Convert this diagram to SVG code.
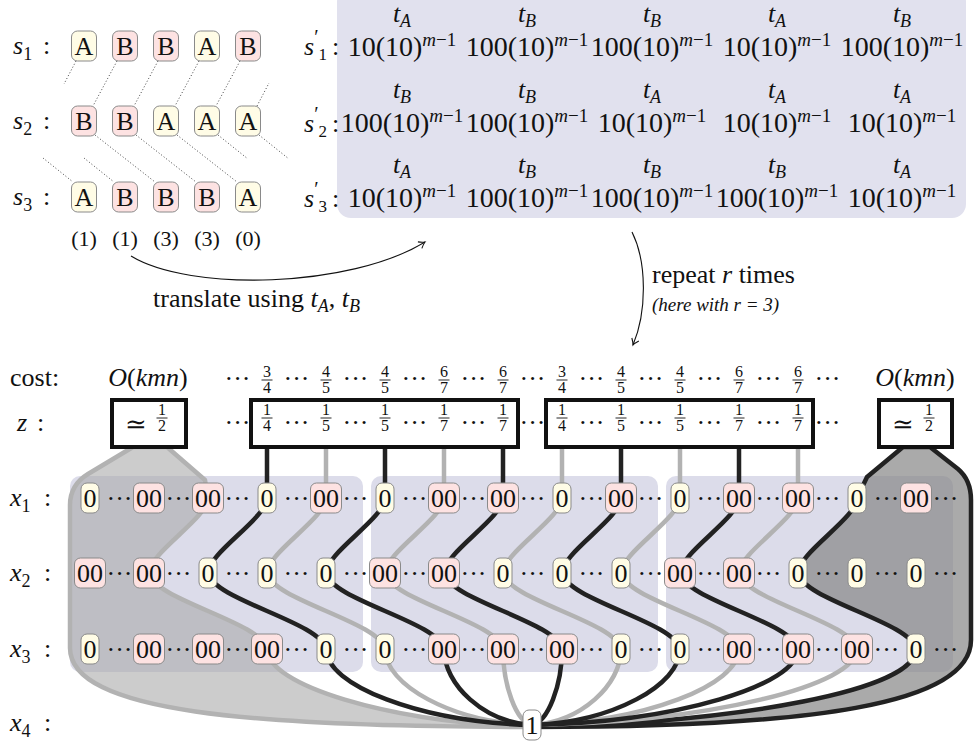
<svg xmlns="http://www.w3.org/2000/svg" width="974" height="744" viewBox="0 0 974 744" font-family="Liberation Serif, DejaVu Serif, serif">
<style>
text{font-family:Liberation Serif,DejaVu Serif,serif;fill:#111}
.i{font-style:italic}
.m{text-anchor:middle}
.L{font-size:26px}
.a{fill:#fffce6;stroke:#8a8a8a;stroke-width:1}
.b{fill:#fde2e2;stroke:#8a8a8a;stroke-width:1}
.w{fill:#fff;stroke:#8a8a8a;stroke-width:1}
.blk{fill:#dcdcea}
.k{fill:none;stroke:#222;stroke-width:4.5;stroke-linejoin:round}
.g{fill:none;stroke:#b2b2b2;stroke-width:4.5;stroke-linejoin:round}
.zb{fill:#fff;stroke:#111;stroke-width:4}
.dl{stroke:#444;stroke-width:1;stroke-dasharray:1 2.2;fill:none}
.nd text{font-size:26px;text-anchor:middle}
.d{font-size:26px;text-anchor:middle}
.f{font-size:16px;text-anchor:middle}
.fb{stroke:#111;stroke-width:0.9}
.v{font-size:28px;text-anchor:middle}
.sup{font-size:19px}
.arr{fill:none;stroke:#111;stroke-width:1.1}
</style>
<defs>
<marker id="ah" viewBox="-7 -5 9 10" markerWidth="9" markerHeight="10" refX="0" refY="0" orient="auto" markerUnits="userSpaceOnUse">
<path d="M-6,-3.8 Q-2.5,-0.9 0,0 Q-2.5,0.9 -6,3.8" fill="none" stroke="#111" stroke-width="1.1"/>
</marker>
</defs>

<g id="labels-s">
<text class="L" x="13" y="54"><tspan class="i">s</tspan><tspan font-size="18" dy="6">1</tspan><tspan x="43" dy="-6">:</tspan></text>
<text class="L" x="13" y="129"><tspan class="i">s</tspan><tspan font-size="18" dy="6">2</tspan><tspan x="43" dy="-6">:</tspan></text>
<text class="L" x="13" y="205"><tspan class="i">s</tspan><tspan font-size="18" dy="6">3</tspan><tspan x="43" dy="-6">:</tspan></text>
</g>

<g id="seq-links">
<line class="dl" x1="76" y1="61" x2="64" y2="84"/>
<line class="dl" x1="117" y1="61" x2="93" y2="106"/>
<line class="dl" x1="158" y1="61" x2="134" y2="106"/>
<line class="dl" x1="199" y1="61" x2="175" y2="106"/>
<line class="dl" x1="240" y1="61" x2="216" y2="106"/>
<line class="dl" x1="257" y1="106" x2="269" y2="83"/>
<line class="dl" x1="43" y1="158" x2="73" y2="182"/>
<line class="dl" x1="84" y1="158" x2="114" y2="182"/>
<line class="dl" x1="95" y1="135" x2="155" y2="182"/>
<line class="dl" x1="136" y1="135" x2="196" y2="182"/>
<line class="dl" x1="177" y1="135" x2="237" y2="182"/>
<line class="dl" x1="218" y1="135" x2="248" y2="159"/>
<line class="dl" x1="259" y1="135" x2="289" y2="159"/>
</g>

<g class="nd">
<g id="s1-0" transform="translate(84,46)"><rect class="a" x="-12.5" y="-15" width="25" height="30" rx="6"/><text y="9">A</text></g>
<g id="s1-1" transform="translate(125,46)"><rect class="b" x="-12.5" y="-15" width="25" height="30" rx="6"/><text y="9">B</text></g>
<g id="s1-2" transform="translate(166,46)"><rect class="b" x="-12.5" y="-15" width="25" height="30" rx="6"/><text y="9">B</text></g>
<g id="s1-3" transform="translate(207,46)"><rect class="a" x="-12.5" y="-15" width="25" height="30" rx="6"/><text y="9">A</text></g>
<g id="s1-4" transform="translate(248,46)"><rect class="b" x="-12.5" y="-15" width="25" height="30" rx="6"/><text y="9">B</text></g>
<g id="s2-0" transform="translate(84,121)"><rect class="b" x="-12.5" y="-15" width="25" height="30" rx="6"/><text y="9">B</text></g>
<g id="s2-1" transform="translate(125,121)"><rect class="b" x="-12.5" y="-15" width="25" height="30" rx="6"/><text y="9">B</text></g>
<g id="s2-2" transform="translate(166,121)"><rect class="a" x="-12.5" y="-15" width="25" height="30" rx="6"/><text y="9">A</text></g>
<g id="s2-3" transform="translate(207,121)"><rect class="a" x="-12.5" y="-15" width="25" height="30" rx="6"/><text y="9">A</text></g>
<g id="s2-4" transform="translate(248,121)"><rect class="a" x="-12.5" y="-15" width="25" height="30" rx="6"/><text y="9">A</text></g>
<g id="s3-0" transform="translate(84,197)"><rect class="a" x="-12.5" y="-15" width="25" height="30" rx="6"/><text y="9">A</text></g>
<g id="s3-1" transform="translate(125,197)"><rect class="b" x="-12.5" y="-15" width="25" height="30" rx="6"/><text y="9">B</text></g>
<g id="s3-2" transform="translate(166,197)"><rect class="b" x="-12.5" y="-15" width="25" height="30" rx="6"/><text y="9">B</text></g>
<g id="s3-3" transform="translate(207,197)"><rect class="b" x="-12.5" y="-15" width="25" height="30" rx="6"/><text y="9">B</text></g>
<g id="s3-4" transform="translate(248,197)"><rect class="a" x="-12.5" y="-15" width="25" height="30" rx="6"/><text y="9">A</text></g>
</g>

<g id="counts" font-size="22">
<text class="m" x="84" y="246">(1)</text>
<text class="m" x="125" y="246">(1)</text>
<text class="m" x="166" y="246">(3)</text>
<text class="m" x="207" y="246">(3)</text>
<text class="m" x="248" y="246">(0)</text>
</g>

<g id="translated">
<rect x="337" y="-12" width="629" height="230" rx="14" fill="#e1e1ee"/>
<text class="L" x="304" y="55"><tspan class="i">s</tspan><tspan font-size="20" dy="-11">′</tspan><tspan font-size="17" dy="16">1</tspan><tspan x="332" dy="-5">:</tspan></text>
<text class="L" x="304" y="132"><tspan class="i">s</tspan><tspan font-size="20" dy="-11">′</tspan><tspan font-size="17" dy="16">2</tspan><tspan x="332" dy="-5">:</tspan></text>
<text class="L" x="304" y="207"><tspan class="i">s</tspan><tspan font-size="20" dy="-11">′</tspan><tspan font-size="17" dy="16">3</tspan><tspan x="332" dy="-5">:</tspan></text>

<text class="L m" x="402" y="22"><tspan class="i">t</tspan><tspan class="i" font-size="18" dy="5">A</tspan></text>
<text class="L m" x="527" y="22"><tspan class="i">t</tspan><tspan class="i" font-size="18" dy="5">B</tspan></text>
<text class="L m" x="652" y="22"><tspan class="i">t</tspan><tspan class="i" font-size="18" dy="5">B</tspan></text>
<text class="L m" x="777" y="22"><tspan class="i">t</tspan><tspan class="i" font-size="18" dy="5">A</tspan></text>
<text class="L m" x="902" y="22"><tspan class="i">t</tspan><tspan class="i" font-size="18" dy="5">B</tspan></text>
<text class="v" x="402" y="56">10(10)<tspan class="sup i" dy="-10">m</tspan><tspan class="sup">−1</tspan></text>
<text class="v" x="527" y="56">100(10)<tspan class="sup i" dy="-10">m</tspan><tspan class="sup">−1</tspan></text>
<text class="v" x="652" y="56">100(10)<tspan class="sup i" dy="-10">m</tspan><tspan class="sup">−1</tspan></text>
<text class="v" x="777" y="56">10(10)<tspan class="sup i" dy="-10">m</tspan><tspan class="sup">−1</tspan></text>
<text class="v" x="902" y="56">100(10)<tspan class="sup i" dy="-10">m</tspan><tspan class="sup">−1</tspan></text>

<text class="L m" x="402" y="98"><tspan class="i">t</tspan><tspan class="i" font-size="18" dy="5">B</tspan></text>
<text class="L m" x="527" y="98"><tspan class="i">t</tspan><tspan class="i" font-size="18" dy="5">B</tspan></text>
<text class="L m" x="652" y="98"><tspan class="i">t</tspan><tspan class="i" font-size="18" dy="5">A</tspan></text>
<text class="L m" x="777" y="98"><tspan class="i">t</tspan><tspan class="i" font-size="18" dy="5">A</tspan></text>
<text class="L m" x="902" y="98"><tspan class="i">t</tspan><tspan class="i" font-size="18" dy="5">A</tspan></text>
<text class="v" x="402" y="132">100(10)<tspan class="sup i" dy="-10">m</tspan><tspan class="sup">−1</tspan></text>
<text class="v" x="527" y="132">100(10)<tspan class="sup i" dy="-10">m</tspan><tspan class="sup">−1</tspan></text>
<text class="v" x="652" y="132">10(10)<tspan class="sup i" dy="-10">m</tspan><tspan class="sup">−1</tspan></text>
<text class="v" x="777" y="132">10(10)<tspan class="sup i" dy="-10">m</tspan><tspan class="sup">−1</tspan></text>
<text class="v" x="902" y="132">10(10)<tspan class="sup i" dy="-10">m</tspan><tspan class="sup">−1</tspan></text>

<text class="L m" x="402" y="173"><tspan class="i">t</tspan><tspan class="i" font-size="18" dy="5">A</tspan></text>
<text class="L m" x="527" y="173"><tspan class="i">t</tspan><tspan class="i" font-size="18" dy="5">B</tspan></text>
<text class="L m" x="652" y="173"><tspan class="i">t</tspan><tspan class="i" font-size="18" dy="5">B</tspan></text>
<text class="L m" x="777" y="173"><tspan class="i">t</tspan><tspan class="i" font-size="18" dy="5">B</tspan></text>
<text class="L m" x="902" y="173"><tspan class="i">t</tspan><tspan class="i" font-size="18" dy="5">A</tspan></text>
<text class="v" x="402" y="207">10(10)<tspan class="sup i" dy="-10">m</tspan><tspan class="sup">−1</tspan></text>
<text class="v" x="527" y="207">100(10)<tspan class="sup i" dy="-10">m</tspan><tspan class="sup">−1</tspan></text>
<text class="v" x="652" y="207">100(10)<tspan class="sup i" dy="-10">m</tspan><tspan class="sup">−1</tspan></text>
<text class="v" x="777" y="207">100(10)<tspan class="sup i" dy="-10">m</tspan><tspan class="sup">−1</tspan></text>
<text class="v" x="902" y="207">10(10)<tspan class="sup i" dy="-10">m</tspan><tspan class="sup">−1</tspan></text>
</g>

<g id="arrows">
<path class="arr" d="M131,256 C190,292 350,288 425,242" marker-end="url(#ah)"/>
<path class="arr" d="M632,232 C647,262 647,312 633,345" marker-end="url(#ah)"/>
</g>
<text class="L" x="153" y="307">translate using <tspan class="i">t</tspan><tspan class="i" font-size="18" dy="5">A</tspan><tspan dy="-5">, </tspan><tspan class="i">t</tspan><tspan class="i" font-size="18" dy="5">B</tspan></text>
<text class="L" x="652" y="283">repeat <tspan class="i">r</tspan> times</text>
<text class="i" font-size="19" x="652" y="311">(here with r = 3)</text>

<g id="row-labels" class="L">
<text x="10" y="386">cost:</text>
<text x="17" y="431"><tspan class="i">z</tspan><tspan x="37">:</tspan></text>
<text x="10" y="506"><tspan class="i">x</tspan><tspan font-size="18" dy="6">1</tspan><tspan x="44" dy="-6">:</tspan></text>
<text x="10" y="581"><tspan class="i">x</tspan><tspan font-size="18" dy="6">2</tspan><tspan x="44" dy="-6">:</tspan></text>
<text x="10" y="657"><tspan class="i">x</tspan><tspan font-size="18" dy="6">3</tspan><tspan x="44" dy="-6">:</tspan></text>
<text x="10" y="731"><tspan class="i">x</tspan><tspan font-size="18" dy="6">4</tspan><tspan x="44" dy="-6">:</tspan></text>
</g>

<g id="blocks">
<rect class="blk" x="70" y="476" width="293" height="196" rx="10"/>
<rect class="blk" x="371" y="476" width="287" height="196" rx="10"/>
<rect class="blk" x="666" y="476" width="287" height="196" rx="10"/>
</g>

<g id="connectors">
<path id="region-left" d="M133,447 L88,474 Q70,485 70,505 L70,648 C70,712 250,727 532,727 C386,722 267,685 267,649 C262,622 154,600 149,573 C149,553 208,518 208,498 L205,480 L167,447 Z" fill="#aaaaaa" fill-opacity="0.6" stroke="#b2b2b2" stroke-width="4.5" stroke-linejoin="round"/>
<path id="region-right" d="M930,447 L958,469 Q971,480 971,500 L971,640 C971,705 810,727 532,727 C743,722 916,690 916,649 C911,622 803,600 798,573 C798,553 857,518 857,498 L867,477 L903,447 Z" fill="#868686" fill-opacity="0.7" stroke="#222" stroke-width="4.5" stroke-linejoin="round"/>
<path class="g" d="M326,447 L326,498 C326,518 267,553 267,573 C272,600 380,622 385,649 C385,685 451,722 532,725"/>
<path class="g" d="M444,447 L444,498 C444,518 385,553 385,573 C390,600 498,622 503,649 C503,685 516,722 532,725"/>
<path class="g" d="M562,447 L562,498 C562,518 503,553 503,573 C508,600 616,622 621,649 C621,685 581,722 532,725"/>
<path class="g" d="M680,447 L680,498 C680,518 621,553 621,573 C626,600 734,622 739,649 C739,685 646,722 532,725"/>
<path class="g" d="M798,447 L798,498 C798,518 739,553 739,573 C744,600 852,622 857,649 C857,685 711,722 532,725"/>
<path class="k" d="M267,447 L267,498 C267,518 208,553 208,573 C213,600 321,622 326,649 C326,685 419,722 532,725"/>
<path class="k" d="M385,447 L385,498 C385,518 326,553 326,573 C331,600 439,622 444,649 C444,685 484,722 532,725"/>
<path class="k" d="M503,447 L503,498 C503,518 444,553 444,573 C449,600 557,622 562,649 C562,685 548,722 532,725"/>
<path class="k" d="M621,447 L621,498 C621,518 562,553 562,573 C567,600 675,622 680,649 C680,685 613,722 532,725"/>
<path class="k" d="M739,447 L739,498 C739,518 680,553 680,573 C685,600 793,622 798,649 C798,685 678,722 532,725"/>
</g>

<g class="nd" id="nodes-x1">
<g id="x1-0" transform="translate(90,498)"><rect class="a" x="-9" y="-15" width="18" height="30" rx="6"/><text y="9">0</text></g>
<g id="x1-1" transform="translate(149,498)"><rect class="b" x="-15.5" y="-15" width="31" height="30" rx="6"/><text y="9">00</text></g>
<g id="x1-2" transform="translate(208,498)"><rect class="b" x="-15.5" y="-15" width="31" height="30" rx="6"/><text y="9">00</text></g>
<g id="x1-3" transform="translate(267,498)"><rect class="a" x="-9" y="-15" width="18" height="30" rx="6"/><text y="9">0</text></g>
<g id="x1-4" transform="translate(326,498)"><rect class="b" x="-15.5" y="-15" width="31" height="30" rx="6"/><text y="9">00</text></g>
<g id="x1-5" transform="translate(385,498)"><rect class="a" x="-9" y="-15" width="18" height="30" rx="6"/><text y="9">0</text></g>
<g id="x1-6" transform="translate(444,498)"><rect class="b" x="-15.5" y="-15" width="31" height="30" rx="6"/><text y="9">00</text></g>
<g id="x1-7" transform="translate(503,498)"><rect class="b" x="-15.5" y="-15" width="31" height="30" rx="6"/><text y="9">00</text></g>
<g id="x1-8" transform="translate(562,498)"><rect class="a" x="-9" y="-15" width="18" height="30" rx="6"/><text y="9">0</text></g>
<g id="x1-9" transform="translate(621,498)"><rect class="b" x="-15.5" y="-15" width="31" height="30" rx="6"/><text y="9">00</text></g>
<g id="x1-10" transform="translate(680,498)"><rect class="a" x="-9" y="-15" width="18" height="30" rx="6"/><text y="9">0</text></g>
<g id="x1-11" transform="translate(739,498)"><rect class="b" x="-15.5" y="-15" width="31" height="30" rx="6"/><text y="9">00</text></g>
<g id="x1-12" transform="translate(798,498)"><rect class="b" x="-15.5" y="-15" width="31" height="30" rx="6"/><text y="9">00</text></g>
<g id="x1-13" transform="translate(857,498)"><rect class="a" x="-9" y="-15" width="18" height="30" rx="6"/><text y="9">0</text></g>
<g id="x1-14" transform="translate(916,498)"><rect class="b" x="-15.5" y="-15" width="31" height="30" rx="6"/><text y="9">00</text></g>
</g>
<g class="nd" id="nodes-x2">
<g id="x2-0" transform="translate(90,573)"><rect class="b" x="-15.5" y="-15" width="31" height="30" rx="6"/><text y="9">00</text></g>
<g id="x2-1" transform="translate(149,573)"><rect class="b" x="-15.5" y="-15" width="31" height="30" rx="6"/><text y="9">00</text></g>
<g id="x2-2" transform="translate(208,573)"><rect class="a" x="-9" y="-15" width="18" height="30" rx="6"/><text y="9">0</text></g>
<g id="x2-3" transform="translate(267,573)"><rect class="a" x="-9" y="-15" width="18" height="30" rx="6"/><text y="9">0</text></g>
<g id="x2-4" transform="translate(326,573)"><rect class="a" x="-9" y="-15" width="18" height="30" rx="6"/><text y="9">0</text></g>
<g id="x2-5" transform="translate(385,573)"><rect class="b" x="-15.5" y="-15" width="31" height="30" rx="6"/><text y="9">00</text></g>
<g id="x2-6" transform="translate(444,573)"><rect class="b" x="-15.5" y="-15" width="31" height="30" rx="6"/><text y="9">00</text></g>
<g id="x2-7" transform="translate(503,573)"><rect class="a" x="-9" y="-15" width="18" height="30" rx="6"/><text y="9">0</text></g>
<g id="x2-8" transform="translate(562,573)"><rect class="a" x="-9" y="-15" width="18" height="30" rx="6"/><text y="9">0</text></g>
<g id="x2-9" transform="translate(621,573)"><rect class="a" x="-9" y="-15" width="18" height="30" rx="6"/><text y="9">0</text></g>
<g id="x2-10" transform="translate(680,573)"><rect class="b" x="-15.5" y="-15" width="31" height="30" rx="6"/><text y="9">00</text></g>
<g id="x2-11" transform="translate(739,573)"><rect class="b" x="-15.5" y="-15" width="31" height="30" rx="6"/><text y="9">00</text></g>
<g id="x2-12" transform="translate(798,573)"><rect class="a" x="-9" y="-15" width="18" height="30" rx="6"/><text y="9">0</text></g>
<g id="x2-13" transform="translate(857,573)"><rect class="a" x="-9" y="-15" width="18" height="30" rx="6"/><text y="9">0</text></g>
<g id="x2-14" transform="translate(916,573)"><rect class="a" x="-9" y="-15" width="18" height="30" rx="6"/><text y="9">0</text></g>
</g>
<g class="nd" id="nodes-x3">
<g id="x3-0" transform="translate(90,649)"><rect class="a" x="-9" y="-15" width="18" height="30" rx="6"/><text y="9">0</text></g>
<g id="x3-1" transform="translate(149,649)"><rect class="b" x="-15.5" y="-15" width="31" height="30" rx="6"/><text y="9">00</text></g>
<g id="x3-2" transform="translate(208,649)"><rect class="b" x="-15.5" y="-15" width="31" height="30" rx="6"/><text y="9">00</text></g>
<g id="x3-3" transform="translate(267,649)"><rect class="b" x="-15.5" y="-15" width="31" height="30" rx="6"/><text y="9">00</text></g>
<g id="x3-4" transform="translate(326,649)"><rect class="a" x="-9" y="-15" width="18" height="30" rx="6"/><text y="9">0</text></g>
<g id="x3-5" transform="translate(385,649)"><rect class="a" x="-9" y="-15" width="18" height="30" rx="6"/><text y="9">0</text></g>
<g id="x3-6" transform="translate(444,649)"><rect class="b" x="-15.5" y="-15" width="31" height="30" rx="6"/><text y="9">00</text></g>
<g id="x3-7" transform="translate(503,649)"><rect class="b" x="-15.5" y="-15" width="31" height="30" rx="6"/><text y="9">00</text></g>
<g id="x3-8" transform="translate(562,649)"><rect class="b" x="-15.5" y="-15" width="31" height="30" rx="6"/><text y="9">00</text></g>
<g id="x3-9" transform="translate(621,649)"><rect class="a" x="-9" y="-15" width="18" height="30" rx="6"/><text y="9">0</text></g>
<g id="x3-10" transform="translate(680,649)"><rect class="a" x="-9" y="-15" width="18" height="30" rx="6"/><text y="9">0</text></g>
<g id="x3-11" transform="translate(739,649)"><rect class="b" x="-15.5" y="-15" width="31" height="30" rx="6"/><text y="9">00</text></g>
<g id="x3-12" transform="translate(798,649)"><rect class="b" x="-15.5" y="-15" width="31" height="30" rx="6"/><text y="9">00</text></g>
<g id="x3-13" transform="translate(857,649)"><rect class="b" x="-15.5" y="-15" width="31" height="30" rx="6"/><text y="9">00</text></g>
<g id="x3-14" transform="translate(916,649)"><rect class="a" x="-9" y="-15" width="18" height="30" rx="6"/><text y="9">0</text></g>
</g>
<g class="nd" id="x4-1" transform="translate(532,725)"><rect class="w" x="-9" y="-15" width="18" height="30" rx="6"/><text y="9">1</text></g>

<g id="row-dots">
<text class="d" x="119.5" y="507">···</text><text class="d" x="178.5" y="507">···</text><text class="d" x="237.5" y="507">···</text><text class="d" x="296.5" y="507">···</text><text class="d" x="355.5" y="507">···</text><text class="d" x="414.5" y="507">···</text><text class="d" x="473.5" y="507">···</text><text class="d" x="532.5" y="507">···</text><text class="d" x="591.5" y="507">···</text><text class="d" x="650.5" y="507">···</text><text class="d" x="709.5" y="507">···</text><text class="d" x="768.5" y="507">···</text><text class="d" x="827.5" y="507">···</text><text class="d" x="886.5" y="507">···</text><text class="d" x="945.5" y="507">···</text>
<text class="d" x="119.5" y="582">···</text><text class="d" x="178.5" y="582">···</text><text class="d" x="237.5" y="582">···</text><text class="d" x="296.5" y="582">···</text><text class="d" x="355.5" y="582">···</text><text class="d" x="414.5" y="582">···</text><text class="d" x="473.5" y="582">···</text><text class="d" x="532.5" y="582">···</text><text class="d" x="591.5" y="582">···</text><text class="d" x="650.5" y="582">···</text><text class="d" x="709.5" y="582">···</text><text class="d" x="768.5" y="582">···</text><text class="d" x="827.5" y="582">···</text><text class="d" x="886.5" y="582">···</text><text class="d" x="945.5" y="582">···</text>
<text class="d" x="119.5" y="658">···</text><text class="d" x="178.5" y="658">···</text><text class="d" x="237.5" y="658">···</text><text class="d" x="296.5" y="658">···</text><text class="d" x="355.5" y="658">···</text><text class="d" x="414.5" y="658">···</text><text class="d" x="473.5" y="658">···</text><text class="d" x="532.5" y="658">···</text><text class="d" x="591.5" y="658">···</text><text class="d" x="650.5" y="658">···</text><text class="d" x="709.5" y="658">···</text><text class="d" x="768.5" y="658">···</text><text class="d" x="827.5" y="658">···</text><text class="d" x="886.5" y="658">···</text><text class="d" x="945.5" y="658">···</text>
</g>

<g id="z-left"><rect class="zb" x="112" y="400" width="74" height="47"/><text class="L m" x="136" y="433">≃</text><text class="f" x="162" y="415">1</text><line class="fb" x1="156.5" y1="418" x2="167.5" y2="418"/><text class="f" x="162" y="431">2</text></g>
<g id="z-mid1"><rect class="zb" x="251" y="400" width="267" height="47"/></g>
<g id="z-mid2"><rect class="zb" x="546" y="400" width="267" height="47"/></g>
<g id="z-right"><rect class="zb" x="879" y="400" width="73" height="47"/><text class="L m" x="903" y="433">≃</text><text class="f" x="929" y="415">1</text><line class="fb" x1="923.5" y1="418" x2="934.5" y2="418"/><text class="f" x="929" y="431">2</text></g>

<g id="z-fracs">
<text class="f" x="267" y="415">1</text><text class="f" x="267" y="431">4</text><line class="fb" x1="261.5" y1="418" x2="272.5" y2="418"/>
<text class="f" x="326" y="415">1</text><text class="f" x="326" y="431">5</text><line class="fb" x1="320.5" y1="418" x2="331.5" y2="418"/>
<text class="f" x="385" y="415">1</text><text class="f" x="385" y="431">5</text><line class="fb" x1="379.5" y1="418" x2="390.5" y2="418"/>
<text class="f" x="444" y="415">1</text><text class="f" x="444" y="431">7</text><line class="fb" x1="438.5" y1="418" x2="449.5" y2="418"/>
<text class="f" x="503" y="415">1</text><text class="f" x="503" y="431">7</text><line class="fb" x1="497.5" y1="418" x2="508.5" y2="418"/>
<text class="f" x="562" y="415">1</text><text class="f" x="562" y="431">4</text><line class="fb" x1="556.5" y1="418" x2="567.5" y2="418"/>
<text class="f" x="621" y="415">1</text><text class="f" x="621" y="431">5</text><line class="fb" x1="615.5" y1="418" x2="626.5" y2="418"/>
<text class="f" x="680" y="415">1</text><text class="f" x="680" y="431">5</text><line class="fb" x1="674.5" y1="418" x2="685.5" y2="418"/>
<text class="f" x="739" y="415">1</text><text class="f" x="739" y="431">7</text><line class="fb" x1="733.5" y1="418" x2="744.5" y2="418"/>
<text class="f" x="798" y="415">1</text><text class="f" x="798" y="431">7</text><line class="fb" x1="792.5" y1="418" x2="803.5" y2="418"/>
<text class="d" x="237.5" y="431">···</text><text class="d" x="296.5" y="431">···</text><text class="d" x="355.5" y="431">···</text><text class="d" x="414.5" y="431">···</text><text class="d" x="473.5" y="431">···</text><text class="d" x="532.5" y="431">···</text><text class="d" x="591.5" y="431">···</text><text class="d" x="650.5" y="431">···</text><text class="d" x="709.5" y="431">···</text><text class="d" x="768.5" y="431">···</text><text class="d" x="827.5" y="431">···</text>
</g>

<g id="cost-row">
<text class="L m" x="148" y="386"><tspan class="i">O</tspan>(<tspan class="i">kmn</tspan>)</text>
<text class="L m" x="915" y="386"><tspan class="i">O</tspan>(<tspan class="i">kmn</tspan>)</text>
<text class="f" x="267" y="377">3</text><text class="f" x="267" y="393">4</text><line class="fb" x1="261.5" y1="380" x2="272.5" y2="380"/>
<text class="f" x="326" y="377">4</text><text class="f" x="326" y="393">5</text><line class="fb" x1="320.5" y1="380" x2="331.5" y2="380"/>
<text class="f" x="385" y="377">4</text><text class="f" x="385" y="393">5</text><line class="fb" x1="379.5" y1="380" x2="390.5" y2="380"/>
<text class="f" x="444" y="377">6</text><text class="f" x="444" y="393">7</text><line class="fb" x1="438.5" y1="380" x2="449.5" y2="380"/>
<text class="f" x="503" y="377">6</text><text class="f" x="503" y="393">7</text><line class="fb" x1="497.5" y1="380" x2="508.5" y2="380"/>
<text class="f" x="562" y="377">3</text><text class="f" x="562" y="393">4</text><line class="fb" x1="556.5" y1="380" x2="567.5" y2="380"/>
<text class="f" x="621" y="377">4</text><text class="f" x="621" y="393">5</text><line class="fb" x1="615.5" y1="380" x2="626.5" y2="380"/>
<text class="f" x="680" y="377">4</text><text class="f" x="680" y="393">5</text><line class="fb" x1="674.5" y1="380" x2="685.5" y2="380"/>
<text class="f" x="739" y="377">6</text><text class="f" x="739" y="393">7</text><line class="fb" x1="733.5" y1="380" x2="744.5" y2="380"/>
<text class="f" x="798" y="377">6</text><text class="f" x="798" y="393">7</text><line class="fb" x1="792.5" y1="380" x2="803.5" y2="380"/>
<text class="d" x="237.5" y="387">···</text><text class="d" x="296.5" y="387">···</text><text class="d" x="355.5" y="387">···</text><text class="d" x="414.5" y="387">···</text><text class="d" x="473.5" y="387">···</text><text class="d" x="532.5" y="387">···</text><text class="d" x="591.5" y="387">···</text><text class="d" x="650.5" y="387">···</text><text class="d" x="709.5" y="387">···</text><text class="d" x="768.5" y="387">···</text><text class="d" x="827.5" y="387">···</text>
</g>
</svg>
